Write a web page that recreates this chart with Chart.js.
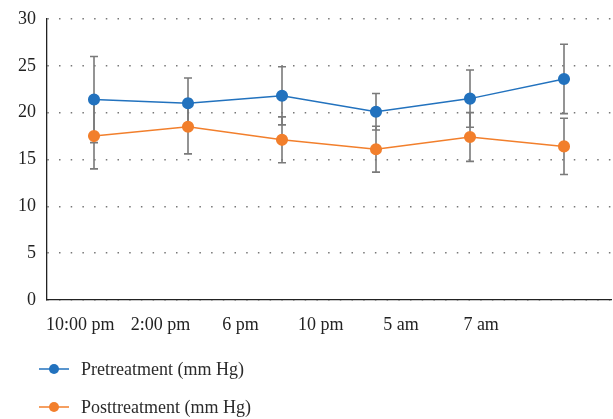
<!DOCTYPE html>
<html>
<head>
<meta charset="utf-8">
<script src="https://cdn.jsdelivr.net/npm/chart.js@4/dist/chart.umd.min.js"></script>
<style>
  html, body { margin: 0; padding: 0; background: #fff; }
  #wrap { position: relative; width: 613px; height: 419px; }
  #legend { position: absolute; left: 39px; top: 350px; font-family: "Liberation Serif", serif; font-size: 18px; color: #2b2b2b; }
  .row { display: flex; align-items: center; height: 38px; }
  .row svg { margin-right: 12px; }
</style>
</head>
<body>
<div id="wrap">
  <canvas id="chart" width="613" height="419"></canvas>
  <div id="legend"></div>
</div>
<script>
const categories = ["10:00 pm", "2:00 pm", "6 pm", "10 pm", "5 am", "7 am"];
const seriesNames = ["Pretreatment (mm Hg)", "Posttreatment (mm Hg)"];
const preValues = [21.4, 21.0, 21.8, 20.1, 21.5, 23.6];
const preErrors = [4.6, 2.7, 3.1, 1.95, 3.05, 3.7];
const postValues = [17.5, 18.5, 17.1, 16.1, 17.4, 16.4];
const postErrors = [3.5, 2.9, 2.45, 2.45, 2.6, 3.0];
const yTicks = [0, 5, 10, 15, 20, 25, 30];

const BLUE = '#2272BE';
const ORANGE = '#F27F2C';
const FONT = { family: '"Liberation Serif", serif', size: 18 };

// vertical error bars, drawn under the lines
const errorBars = {
  id: 'errorBars',
  beforeDatasetsDraw(chart) {
    const ctx = chart.ctx;
    const y = chart.scales.y;
    ctx.save();
    ctx.strokeStyle = '#7a7a7a';
    ctx.lineWidth = 1.6;
    chart.data.datasets.forEach((ds, di) => {
      const meta = chart.getDatasetMeta(di);
      meta.data.forEach((pt, i) => {
        const v = ds.data[i], e = ds.errors[i];
        const top = y.getPixelForValue(v + e);
        const bot = y.getPixelForValue(v - e);
        ctx.beginPath();
        ctx.moveTo(pt.x, top); ctx.lineTo(pt.x, bot);
        ctx.moveTo(pt.x - 4, top); ctx.lineTo(pt.x + 4, top);
        ctx.moveTo(pt.x - 4, bot); ctx.lineTo(pt.x + 4, bot);
        ctx.stroke();
      });
    });
    ctx.restore();
  }
};

// let layout.padding alone decide the plot edges
const noEdgePad = s => { s.paddingLeft = s.paddingRight = s.paddingTop = s.paddingBottom = 0; };

new Chart(document.getElementById('chart'), {
  type: 'line',
  data: {
    labels: categories,
    datasets: [
      { label: seriesNames[0], data: preValues, errors: preErrors, borderColor: BLUE, backgroundColor: BLUE,
        borderWidth: 1.5, pointRadius: 5.3, pointHoverRadius: 5.3, tension: 0 },
      { label: seriesNames[1], data: postValues, errors: postErrors, borderColor: ORANGE, backgroundColor: ORANGE,
        borderWidth: 1.5, pointRadius: 5.3, pointHoverRadius: 5.3, tension: 0 }
    ]
  },
  options: {
    responsive: false,
    animation: false,
    layout: { autoPadding: false, padding: { top: 19, right: 2, left: 0, bottom: 0 } },
    plugins: { legend: { display: false }, tooltip: { enabled: false } },
    scales: {
      x: {
        weight: 0,
        offset: true,
        grid: { display: false },
        border: { display: true, color: '#222', width: 1.3 },
        ticks: { display: false },
        afterFit: s => { s.height = 0; noEdgePad(s); }
      },
      // label axis: the source figure's labels sit on their own spacing
      xl: {
        type: 'linear',
        position: 'bottom',
        weight: 1,
        min: 0.585,
        max: 7.62,
        grid: { display: false, drawTicks: false },
        border: { display: false },
        afterBuildTicks: s => { s.ticks = categories.map((_, i) => ({ value: i + 1 })); },
        ticks: { color: '#222', font: FONT, padding: 14, maxRotation: 0, autoSkip: false,
                 callback: v => categories[v - 1] },
        afterFit: s => { s.height = 119; noEdgePad(s); }
      },
      y: {
        min: 0,
        max: 30,
        afterBuildTicks: s => { s.ticks = yTicks.map(v => ({ value: v })); },
        grid: { color: '#777', lineWidth: 1.5, drawTicks: false },
        border: { display: true, color: '#222', width: 1.3, dash: [1.5, 10.2] },
        ticks: { color: '#222', font: FONT, padding: 11 },
        afterFit: s => { s.width = 47; noEdgePad(s); }
      }
    }
  },
  plugins: [errorBars]
});

// legend below the chart
const legend = document.getElementById('legend');
[BLUE, ORANGE].forEach((c, i) => {
  const row = document.createElement('div');
  row.className = 'row';
  row.innerHTML = '<svg width="30" height="12"><line x1="0" y1="6" x2="30" y2="6" stroke="' + c +
    '" stroke-width="1.5"/><circle cx="15" cy="6" r="5" fill="' + c + '"/></svg><span>' + seriesNames[i] + '</span>';
  legend.appendChild(row);
});
</script>
</body>
</html>
